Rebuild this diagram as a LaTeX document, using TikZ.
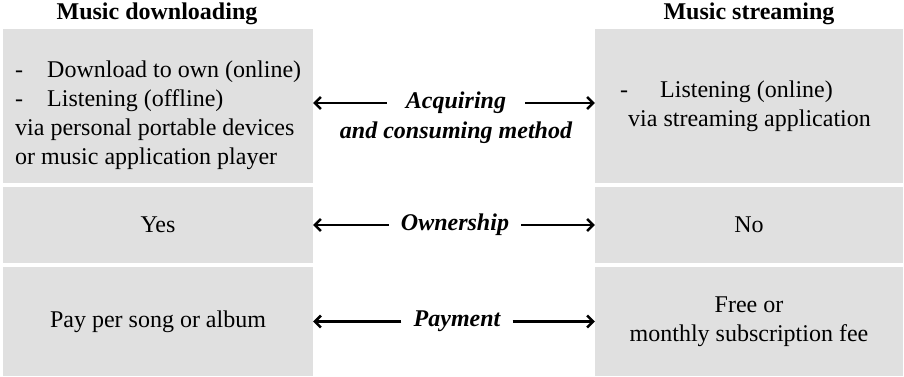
\documentclass[tikz,border=0pt]{standalone}
\usepackage{fontspec}
\setmainfont{Liberation Serif}
\usetikzlibrary{arrows.meta,positioning}
\definecolor{cellgray}{RGB}{224,224,224}
\tikzset{
  cell/.style={fill=cellgray, draw=none, inner sep=0pt},
  lbl/.style={font=\fontsize{24}{29}\selectfont\bfseries\itshape, inner xsep=12pt, inner ysep=0pt},
  arr/.style={-{Straight Barb[length=6pt,width=12pt,line width=2.5pt]}, line width=2.5pt}
}
\begin{document}
\begin{tikzpicture}[x=1pt,y=-1pt,font=\fontsize{24}{29}\selectfont]
\useasboundingbox (0,0) rectangle (904,376);

% headings
\node[font=\fontsize{24}{29}\selectfont\bfseries] (hdl) at (157,14) {Music downloading};
\node[font=\fontsize{24}{29}\selectfont\bfseries] (hst) at (749,14) {Music streaming};

% grey cells
\node[cell, minimum width=310pt, minimum height=154pt] (dl1) at (158,106) {};
\node[cell, minimum width=310pt, minimum height=76pt] (dl2) at (158,225) {};
\node[cell, minimum width=310pt, minimum height=109pt] (dl3) at (158,321.5) {};
\node[cell, minimum width=308pt, minimum height=154pt] (st1) at (749,106) {};
\node[cell, minimum width=308pt, minimum height=76pt] (st2) at (749,225) {};
\node[cell, minimum width=308pt, minimum height=109pt] (st3) at (749,321.5) {};

% cell texts
\node[anchor=west, align=left, inner sep=0pt] (dltxt) at (15,115)
  {\makebox[32pt][l]{-}Download to own (online)\\
   \makebox[32pt][l]{-}Listening (offline)\\
   via personal portable devices\\
   or music application player};
\node[anchor=west, align=left, inner sep=0pt] (sttxt) at (620,106)
  {\makebox[40pt][l]{-}Listening (online)\\
   \hspace*{8pt}via streaming application};
\node (yes) at (dl2) {Yes};
\node (no) at (st2) {No};
\node (pay) at (dl3) {Pay per song or album};
\node[align=center] (fee) at (st3) {Free or\\monthly subscription fee};

% middle labels
\node[lbl, inner xsep=19pt] (acq) at (456,103) {Acquiring};
\node[lbl, inner xsep=0pt, below=8pt of acq] (acq2) {and consuming method};
\node[lbl] (own) at (455,225) {Ownership};
\node[lbl] (paym) at (457,321.5) {Payment};

% arrows
\draw[arr] (acq.west) -- (acq -| dl1.east);
\draw[arr] (acq.east) -- (acq -| st1.west);
\draw[arr] (own.west) -- (own -| dl2.east);
\draw[arr] (own.east) -- (own -| st2.west);
\draw[arr] (paym.west) -- (paym -| dl3.east);
\draw[arr] (paym.east) -- (paym -| st3.west);

\end{tikzpicture}
\end{document}
